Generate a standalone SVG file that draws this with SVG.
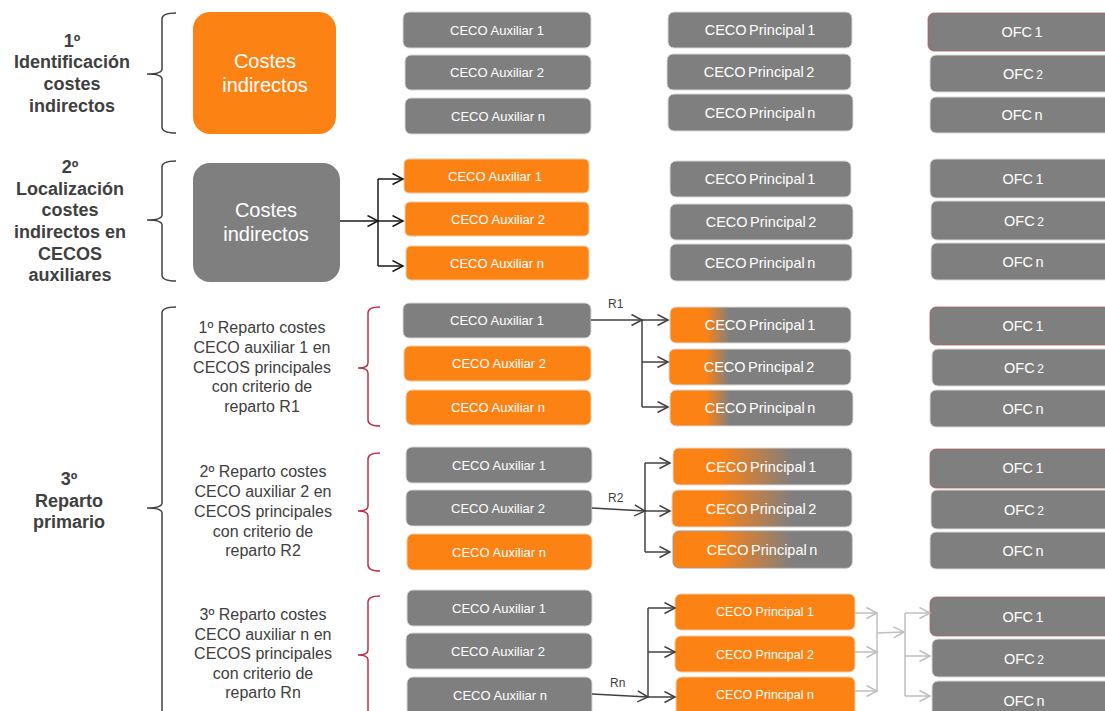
<svg xmlns="http://www.w3.org/2000/svg" width="1105" height="711" viewBox="0 0 1105 711">
<defs>
<style>
.t{font-family:"Liberation Sans",Arial,sans-serif;}
.lb{font-family:"Liberation Sans",Arial,sans-serif;font-weight:bold;font-size:18px;fill:#404040;text-anchor:middle;}
.ls{font-family:"Liberation Sans",Arial,sans-serif;font-size:16px;fill:#404040;text-anchor:middle;}
.g{fill:#7f7f7f;stroke:#d9d9d9;stroke-width:1;}
.o{fill:#fd8214;stroke:#f2c9a0;stroke-width:1;}
.ofc1{fill:#7f7f7f;stroke:#b06060;stroke-width:0.8;}
.big{font-family:"Liberation Sans",Arial,sans-serif;font-size:20px;fill:#fff;text-anchor:middle;}
.ax{font-family:"Liberation Sans",Arial,sans-serif;font-size:13px;fill:#fff;text-anchor:middle;}
.pr{font-family:"Liberation Sans",Arial,sans-serif;font-size:14.5px;fill:#fff;text-anchor:middle;word-spacing:-1.5px;}
.pr2{font-family:"Liberation Sans",Arial,sans-serif;font-size:12.5px;fill:#fff;text-anchor:middle;}
.of{font-family:"Liberation Sans",Arial,sans-serif;font-size:14.5px;fill:#fff;text-anchor:middle;word-spacing:-1.5px;}
.sm{font-size:12px;}
.rl{font-family:"Liberation Sans",Arial,sans-serif;font-size:12px;fill:#404040;}
.br{fill:none;stroke:#404040;stroke-width:1.5;}
.brr{fill:none;stroke:#c0304a;stroke-width:1.5;}
.ck{fill:none;stroke:#1a1a1a;stroke-width:1.5;}
.cd{fill:none;stroke:#404040;stroke-width:1.5;}
.cl{fill:none;stroke:#bfbfbf;stroke-width:1.5;}
</style>
<marker id="mk" markerUnits="userSpaceOnUse" markerWidth="13" markerHeight="13" refX="11" refY="6" orient="auto"><path d="M0.5,0.5 L11,6 L0.5,11.5" fill="none" stroke="#1a1a1a" stroke-width="1.5"/></marker>
<marker id="md" markerUnits="userSpaceOnUse" markerWidth="13" markerHeight="13" refX="11" refY="6" orient="auto"><path d="M0.5,0.5 L11,6 L0.5,11.5" fill="none" stroke="#404040" stroke-width="1.5"/></marker>
<marker id="ml" markerUnits="userSpaceOnUse" markerWidth="13" markerHeight="13" refX="11" refY="6" orient="auto"><path d="M0.5,0.5 L11,6 L0.5,11.5" fill="none" stroke="#bfbfbf" stroke-width="1.5"/></marker>
<linearGradient id="gr1" x1="0" y1="0" x2="1" y2="0">
<stop offset="0" stop-color="#fd8214"/><stop offset="0.2" stop-color="#fd8214"/><stop offset="0.33" stop-color="#7f7f7f"/><stop offset="1" stop-color="#7f7f7f"/>
</linearGradient>
<linearGradient id="gr2" x1="0" y1="0" x2="1" y2="0">
<stop offset="0" stop-color="#fd8214"/><stop offset="0.25" stop-color="#fd8214"/><stop offset="0.67" stop-color="#7f7f7f"/><stop offset="1" stop-color="#7f7f7f"/>
</linearGradient>
</defs>
<rect width="1105" height="711" fill="#ffffff"/>

<g id="labels">
<g id="label-1">
<text class="lb" x="72" y="47">1º</text>
<text class="lb" x="72" y="68">Identificación</text>
<text class="lb" x="72" y="90">costes</text>
<text class="lb" x="72" y="112">indirectos</text>
</g>
<g id="label-2">
<text class="lb" x="70" y="173">2º</text>
<text class="lb" x="70" y="195">Localización</text>
<text class="lb" x="70" y="216">costes</text>
<text class="lb" x="70" y="238">indirectos en</text>
<text class="lb" x="70" y="260">CECOS</text>
<text class="lb" x="70" y="281">auxiliares</text>
</g>
<g id="label-3">
<text class="lb" x="69" y="485">3º</text>
<text class="lb" x="69" y="507">Reparto</text>
<text class="lb" x="69" y="528">primario</text>
</g>
<g id="label-3a">
<text class="ls" x="262" y="333">1º Reparto costes</text>
<text class="ls" x="262" y="353">CECO auxiliar 1 en</text>
<text class="ls" x="262" y="373">CECOS principales</text>
<text class="ls" x="262" y="392">con criterio de</text>
<text class="ls" x="262" y="412">reparto R1</text>
</g>
<g id="label-3b">
<text class="ls" x="263" y="477">2º Reparto costes</text>
<text class="ls" x="263" y="497">CECO auxiliar 2 en</text>
<text class="ls" x="263" y="517">CECOS principales</text>
<text class="ls" x="263" y="537">con criterio de</text>
<text class="ls" x="263" y="556">reparto R2</text>
</g>
<g id="label-3c">
<text class="ls" x="263" y="620">3º Reparto costes</text>
<text class="ls" x="263" y="640">CECO auxiliar n  en</text>
<text class="ls" x="263" y="659">CECOS principales</text>
<text class="ls" x="263" y="679">con criterio de</text>
<text class="ls" x="263" y="698">reparto Rn</text>
</g>
</g>

<g id="braces">
<path class="br" d="M176,13 Q162,13 162,19 L162,69 Q162,74 147,74 Q162,74 162,79 L162,127 Q162,133 176,133"/>
<path class="br" d="M176,161 Q162,161 162,167 L162,215 Q162,220 147,220 Q162,220 162,225 L162,275 Q162,281 176,281"/>
<path class="br" d="M176,307 Q162,307 162,313 L162,503 Q162,508 147,508 Q162,508 162,513 L162,725"/>
<path class="brr" d="M380,307 Q368,307 368,313 L368,363 Q368,368 358,368 Q368,368 368,373 L368,420 Q368,426 380,426"/>
<path class="brr" d="M380,453 Q368,453 368,459 L368,506 Q368,511 358,511 Q368,511 368,516 L368,565 Q368,571 380,571"/>
<path class="brr" d="M380,596 Q368,596 368,602 L368,650 Q368,655 358,655 Q368,655 368,660 L368,725"/>
</g>

<g id="s1-costes"><rect x="193" y="12" width="143" height="122" rx="17" fill="#fd8214"/><text class="big" x="265" y="68">Costes</text><text class="big" x="265" y="92">indirectos</text></g>
<g id="s1-aux1"><rect class="g" x="403" y="12" width="188" height="36" rx="6"/><text class="ax" x="497" y="35">CECO Auxiliar 1</text></g>
<g id="s1-aux2"><rect class="g" x="405" y="55" width="186" height="35" rx="6"/><text class="ax" x="497" y="77">CECO Auxiliar 2</text></g>
<g id="s1-auxn"><rect class="g" x="405" y="98" width="186" height="36" rx="6"/><text class="ax" x="498" y="121">CECO Auxiliar n</text></g>
<g id="s1-pr1"><rect class="g" x="668" y="12" width="184" height="36" rx="6"/><text class="pr" x="760" y="35">CECO Principal 1</text></g>
<g id="s1-pr2"><rect class="g" x="667" y="54" width="184" height="36" rx="6"/><text class="pr" x="759" y="77">CECO Principal 2</text></g>
<g id="s1-prn"><rect class="g" x="668" y="94" width="185" height="37" rx="6"/><text class="pr" x="760" y="118">CECO Principal n</text></g>
<g id="s1-ofc1"><rect class="ofc1" x="928" y="13" width="190" height="38" rx="6"/><text class="of" x="1022" y="37">OFC 1</text></g>
<g id="s1-ofc2"><rect class="g" x="930" y="55" width="190" height="37" rx="6"/><text class="of" x="1023" y="79">OFC <tspan class="sm">2</tspan></text></g>
<g id="s1-ofcn"><rect class="g" x="930" y="97" width="190" height="36" rx="6"/><text class="of" x="1022" y="120">OFC n</text></g>

<g id="s2-costes"><rect x="193" y="163" width="147" height="119" rx="17" fill="#7f7f7f"/><text class="big" x="266" y="217">Costes</text><text class="big" x="266" y="241">indirectos</text></g>
<g id="s2-aux1"><rect class="o" x="404" y="159" width="185" height="34" rx="5"/><text class="ax" x="495" y="181">CECO Auxiliar 1</text></g>
<g id="s2-aux2"><rect class="o" x="405" y="202" width="184" height="34" rx="5"/><text class="ax" x="498" y="224">CECO Auxiliar 2</text></g>
<g id="s2-auxn"><rect class="o" x="406" y="246" width="183" height="34" rx="5" stroke="#5fae8a"/><text class="ax" x="497" y="268">CECO Auxiliar n</text></g>
<g id="s2-pr1"><rect class="g" x="670" y="161" width="181" height="36" rx="6"/><text class="pr" x="760" y="184">CECO Principal 1</text></g>
<g id="s2-pr2"><rect class="g" x="670" y="204" width="183" height="36" rx="6"/><text class="pr" x="761" y="227">CECO Principal 2</text></g>
<g id="s2-prn"><rect class="g" x="670" y="244" width="182" height="37" rx="6"/><text class="pr" x="760" y="268">CECO Principal n</text></g>
<g id="s2-ofc1"><rect class="g" x="930" y="159" width="190" height="39" rx="6"/><text class="of" x="1023" y="184">OFC 1</text></g>
<g id="s2-ofc2"><rect class="g" x="931" y="201" width="190" height="39" rx="6"/><text class="of" x="1024" y="226">OFC <tspan class="sm">2</tspan></text></g>
<g id="s2-ofcn"><rect class="g" x="931" y="243" width="190" height="37" rx="6"/><text class="of" x="1023" y="267">OFC n</text></g>

<g id="s3a-aux1"><rect class="g" x="403" y="303" width="188" height="35" rx="6"/><text class="ax" x="497" y="325">CECO Auxiliar 1</text></g>
<g id="s3a-aux2"><rect class="o" x="404" y="346" width="187" height="35" rx="6" stroke="#999"/><text class="ax" x="499" y="368">CECO Auxiliar 2</text></g>
<g id="s3a-auxn"><rect class="o" x="406" y="390" width="185" height="35" rx="6" stroke="#999"/><text class="ax" x="498" y="412">CECO Auxiliar n</text></g>
<g id="s3a-pr1"><rect x="670" y="307" width="181" height="36" rx="6" fill="url(#gr1)" stroke="#d9d9d9"/><text class="pr" x="760" y="330">CECO Principal 1</text></g>
<g id="s3a-pr2"><rect x="669" y="349" width="182" height="36" rx="6" fill="url(#gr1)" stroke="#d9d9d9"/><text class="pr" x="759" y="372">CECO Principal 2</text></g>
<g id="s3a-prn"><rect x="670" y="390" width="183" height="36" rx="6" fill="url(#gr1)" stroke="#d9d9d9"/><text class="pr" x="760" y="413">CECO Principal n</text></g>
<g id="s3a-ofc1"><rect class="ofc1" x="930" y="307" width="190" height="38" rx="6"/><text class="of" x="1023" y="331">OFC 1</text></g>
<g id="s3a-ofc2"><rect class="g" x="932" y="349" width="190" height="37" rx="6"/><text class="of" x="1024" y="373">OFC <tspan class="sm">2</tspan></text></g>
<g id="s3a-ofcn"><rect class="g" x="930" y="390" width="190" height="37" rx="6"/><text class="of" x="1023" y="414">OFC n</text></g>

<g id="s3b-aux1"><rect class="g" x="406" y="447" width="186" height="36" rx="6"/><text class="ax" x="499" y="470">CECO Auxiliar 1</text></g>
<g id="s3b-aux2"><rect class="g" x="406" y="490" width="186" height="36" rx="6"/><text class="ax" x="498" y="513">CECO Auxiliar 2</text></g>
<g id="s3b-auxn"><rect class="o" x="407" y="534" width="185" height="36" rx="6" stroke="#999" stroke-width="1.5"/><text class="ax" x="499" y="557">CECO Auxiliar n</text></g>
<g id="s3b-pr1"><rect x="673" y="448" width="179" height="37" rx="6" fill="url(#gr2)" stroke="#d9d9d9"/><text class="pr" x="761" y="472">CECO Principal 1</text></g>
<g id="s3b-pr2"><rect x="672" y="490" width="180" height="37" rx="6" fill="url(#gr2)" stroke="#d9d9d9"/><text class="pr" x="761" y="514">CECO Principal 2</text></g>
<g id="s3b-prn"><rect x="673" y="531" width="179" height="37" rx="6" fill="url(#gr2)" stroke="#999"/><text class="pr" x="762" y="555">CECO Principal n</text></g>
<g id="s3b-ofc1"><rect class="ofc1" x="930" y="449" width="190" height="39" rx="6"/><text class="of" x="1023" y="473">OFC 1</text></g>
<g id="s3b-ofc2"><rect class="g" x="931" y="490" width="190" height="39" rx="6"/><text class="of" x="1024" y="515">OFC <tspan class="sm">2</tspan></text></g>
<g id="s3b-ofcn"><rect class="g" x="930" y="532" width="190" height="37" rx="6"/><text class="of" x="1023" y="556">OFC n</text></g>

<g id="s3c-aux1"><rect class="g" x="407" y="590" width="185" height="36" rx="6"/><text class="ax" x="499" y="613">CECO Auxiliar 1</text></g>
<g id="s3c-aux2"><rect class="g" x="406" y="633" width="186" height="36" rx="6"/><text class="ax" x="498" y="656">CECO Auxiliar 2</text></g>
<g id="s3c-auxn"><rect class="g" x="407" y="677" width="185" height="40" rx="6"/><text class="ax" x="500" y="700">CECO Auxiliar n</text></g>
<g id="s3c-pr1"><rect class="o" x="675" y="594" width="180" height="36" rx="6"/><text class="pr2" x="765" y="616">CECO Principal 1</text></g>
<g id="s3c-pr2"><rect class="o" x="675" y="636" width="180" height="36" rx="6"/><text class="pr2" x="765" y="659">CECO Principal 2</text></g>
<g id="s3c-prn"><rect class="o" x="676" y="677" width="179" height="40" rx="6" stroke="#5fae8a"/><text class="pr2" x="765" y="699">CECO Principal n</text></g>
<g id="s3c-ofc1"><rect class="ofc1" x="930" y="597" width="190" height="39" rx="6"/><text class="of" x="1023" y="622">OFC 1</text></g>
<g id="s3c-ofc2"><rect class="g" x="932" y="639" width="190" height="38" rx="6"/><text class="of" x="1024" y="664">OFC <tspan class="sm">2</tspan></text></g>
<g id="s3c-ofcn"><rect class="g" x="932" y="681" width="190" height="40" rx="6"/><text class="of" x="1024" y="706">OFC n</text></g>

<g id="connectors">
<path class="ck" d="M340,221 H378" marker-end="url(#mk)"/>
<path class="ck" d="M378,179 V266"/>
<path class="ck" d="M378,179 H403" marker-end="url(#mk)"/>
<path class="ck" d="M378,221 H403" marker-end="url(#mk)"/>
<path class="ck" d="M378,266 H403" marker-end="url(#mk)"/>

<path class="cd" d="M591,320 H642" marker-end="url(#md)"/>
<path class="cd" d="M642,320 V407"/>
<path class="cd" d="M642,320 H668" marker-end="url(#md)"/>
<path class="cd" d="M642,362 H668" marker-end="url(#md)"/>
<path class="cd" d="M642,407 H668" marker-end="url(#md)"/>
<text class="rl" x="608" y="308">R1</text>

<path class="cd" d="M592,508 L645,511" marker-end="url(#md)"/>
<path class="cd" d="M645,463 V552"/>
<path class="cd" d="M645,463 H670" marker-end="url(#md)"/>
<path class="cd" d="M645,511 H670" marker-end="url(#md)"/>
<path class="cd" d="M645,552 H670" marker-end="url(#md)"/>
<text class="rl" x="608" y="502">R2</text>

<path class="cd" d="M592,694 L648,697" marker-end="url(#md)"/>
<path class="cd" d="M648,608 V697"/>
<path class="cd" d="M648,608 H675" marker-end="url(#md)"/>
<path class="cd" d="M648,652 H675" marker-end="url(#md)"/>
<path class="cd" d="M648,697 H675" marker-end="url(#md)"/>
<text class="rl" x="610" y="687">Rn</text>

<path class="cl" d="M855,613 H877" marker-end="url(#ml)"/>
<path class="cl" d="M855,652 H877" marker-end="url(#ml)"/>
<path class="cl" d="M855,691 H877" marker-end="url(#ml)"/>
<path class="cl" d="M877,613 V691"/>
<path class="cl" d="M877,633 L904,632" marker-end="url(#ml)"/>
<path class="cl" d="M905,613 V696"/>
<path class="cl" d="M905,613 H930" marker-end="url(#ml)"/>
<path class="cl" d="M905,656 H930" marker-end="url(#ml)"/>
<path class="cl" d="M905,696 H930" marker-end="url(#ml)"/>
</g>
</svg>
